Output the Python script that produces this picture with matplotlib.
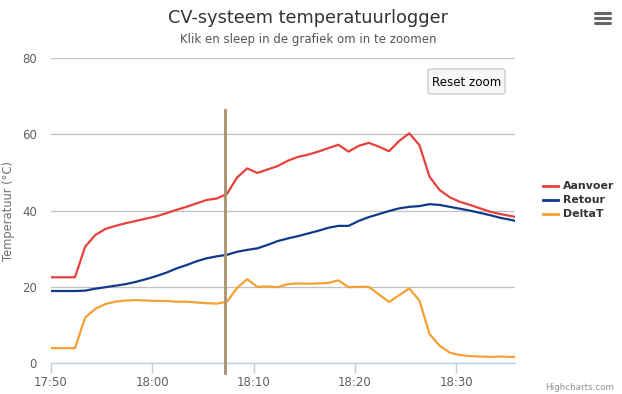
import matplotlib
matplotlib.use("Agg")
import matplotlib.pyplot as plt
import matplotlib.dates as mdates
from matplotlib.lines import Line2D
from matplotlib.patches import FancyBboxPatch
import pandas as pd

title = "CV-systeem temperatuurlogger"
subtitle = "Klik en sleep in de grafiek om in te zoomen"
y_label = "Temperatuur (°C)"

times = [
    "17:49:22", "17:50:22", "17:51:22", "17:52:22", "17:53:22", "17:54:22",
    "17:55:22", "17:56:22", "17:57:22", "17:58:22", "17:59:22", "18:00:22",
    "18:01:22", "18:02:22", "18:03:22", "18:04:22", "18:05:22", "18:06:22",
    "18:07:22", "18:08:22", "18:09:22", "18:10:22", "18:11:22", "18:12:22",
    "18:13:22", "18:14:22", "18:15:22", "18:16:22", "18:17:22", "18:18:22",
    "18:19:22", "18:20:22", "18:21:22", "18:22:22", "18:23:22", "18:24:22",
    "18:25:22", "18:26:22", "18:27:22", "18:28:22", "18:29:22", "18:30:22",
    "18:31:22", "18:32:22", "18:33:22", "18:34:22", "18:35:22", "18:36:22",
]
aanvoer = [
    22.5, 22.5, 22.5, 22.5, 30.5, 33.6, 35.2, 36.0, 36.7, 37.3, 37.9, 38.5,
    39.3, 40.2, 41.0, 41.9, 42.8, 43.2, 44.4, 48.7, 51.1, 49.9, 50.8, 51.7,
    53.1, 54.1, 54.7, 55.5, 56.4, 57.3, 55.5, 57.0, 57.8, 56.8, 55.6, 58.3,
    60.3, 57.2, 48.9, 45.4, 43.5, 42.3, 41.5, 40.6, 39.7, 39.1, 38.6, 38.1,
]
retour = [
    18.9, 18.9, 18.9, 18.9, 19.0, 19.5, 19.9, 20.3, 20.7, 21.3, 22.0, 22.8,
    23.7, 24.8, 25.7, 26.7, 27.5, 28.0, 28.4, 29.2, 29.7, 30.1, 31.0, 32.0,
    32.7, 33.3, 34.0, 34.7, 35.5, 36.0, 36.0, 37.3, 38.3, 39.1, 39.9, 40.6,
    41.0, 41.2, 41.7, 41.5, 41.0, 40.5, 40.0, 39.4, 38.8, 38.1, 37.6, 37.0,
]
delta_t = [
    3.9, 3.9, 3.9, 3.9, 11.9, 14.2, 15.5, 16.1, 16.4, 16.5, 16.4, 16.3,
    16.3, 16.1, 16.1, 15.9, 15.7, 15.6, 16.1, 19.7, 22.0, 20.0, 20.1, 19.9,
    20.7, 20.9, 20.8, 20.9, 21.0, 21.7, 19.9, 20.0, 20.0, 18.0, 16.0, 17.8,
    19.6, 16.4, 7.6, 4.5, 2.7, 2.1, 1.8, 1.7, 1.6, 1.7, 1.6, 1.6,
]
series = [
    ("Aanvoer", aanvoer, "#e8403a"),
    ("Retour", retour, "#0f3a8a"),
    ("DeltaT", delta_t, "#f5a033"),
]
x_start, x_end = "17:50:00", "18:35:48"
marker_time = "18:07:11"
y_ticks = [0, 20, 40, 60, 80]

day = "2015-01-01 "
t = pd.to_datetime([day + s for s in times])

plt.rcParams["font.family"] = ["DejaVu Sans"]
fig = plt.figure(figsize=(6.22, 3.94), dpi=100, facecolor="white")
ax = fig.add_axes([51 / 622, 1 - 363 / 394, 464 / 622, (363 - 58.3) / 394])

for name, values, color in series:
    ax.plot(t, values, color=color, lw=1.6, label=name, solid_joinstyle="round")

ax.set_xlim(pd.Timestamp(day + x_start), pd.Timestamp(day + x_end))
ax.set_ylim(0, 80)
ax.set_yticks(y_ticks)
ax.grid(axis="y", color="#c0c0c0", lw=0.9)
ax.set_axisbelow(True)
for side in ("top", "right", "left"):
    ax.spines[side].set_visible(False)
ax.spines["bottom"].set_color("#c0d0e0")
ax.spines["bottom"].set_linewidth(1)

ax.xaxis.set_major_locator(mdates.MinuteLocator(byminute=range(0, 60, 10)))
ax.xaxis.set_major_formatter(mdates.DateFormatter("%H:%M"))
ax.tick_params(axis="x", colors="#c0d0e0", length=7, width=1, labelcolor="#606060",
               labelsize=8.5, pad=2)
ax.tick_params(axis="y", length=0, labelcolor="#606060", labelsize=8.5, pad=10)
ax.set_ylabel(y_label, color="#707070", fontsize=8.3, labelpad=5)
ax.yaxis.set_label_coords(-36 / 464, 0.5)

ax.axvline(pd.Timestamp(day + marker_time), ymin=-0.033, ymax=0.83,
           color="#a8916f", lw=2, clip_on=False, zorder=5)

fig.text(307.5 / 622, 1 - 18 / 394, title, ha="center", va="center", fontsize=12.8, color="#333333")
fig.text(308 / 622, 1 - 40 / 394, subtitle, ha="center", va="center", fontsize=8.5, color="#555555")

# legend on the right
for i, (name, values, color) in enumerate(series):
    yy = 1 - (186 + 14 * i) / 394
    fig.add_artist(Line2D([543 / 622, 558 / 622], [yy, yy], color=color, lw=2))
    fig.text(563 / 622, yy, name, ha="left", va="center", fontsize=7.9,
             fontweight="bold", color="#333333")

# reset zoom button
button = FancyBboxPatch((428 / 622, 1 - 94 / 394), 77 / 622, 25 / 394,
                        boxstyle="round,pad=0,rounding_size=0.005",
                        transform=fig.transFigure, facecolor="#f7f7f7",
                        edgecolor="#cccccc", lw=1)
fig.add_artist(button)
fig.text(466.5 / 622, 1 - 82 / 394, "Reset zoom", ha="center", va="center",
         fontsize=8.6, color="black")

# export menu icon
for dy in (13, 18, 23):
    yy = 1 - dy / 394
    fig.add_artist(Line2D([595 / 622, 610 / 622], [yy, yy], color="#666666", lw=2.2,
                          solid_capstyle="round"))

fig.text(614 / 622, 1 - 388 / 394, "Highcharts.com", ha="right", va="center",
         fontsize=6.3, color="#909090")

fig.savefig("out.png", dpi=100, facecolor="white")
